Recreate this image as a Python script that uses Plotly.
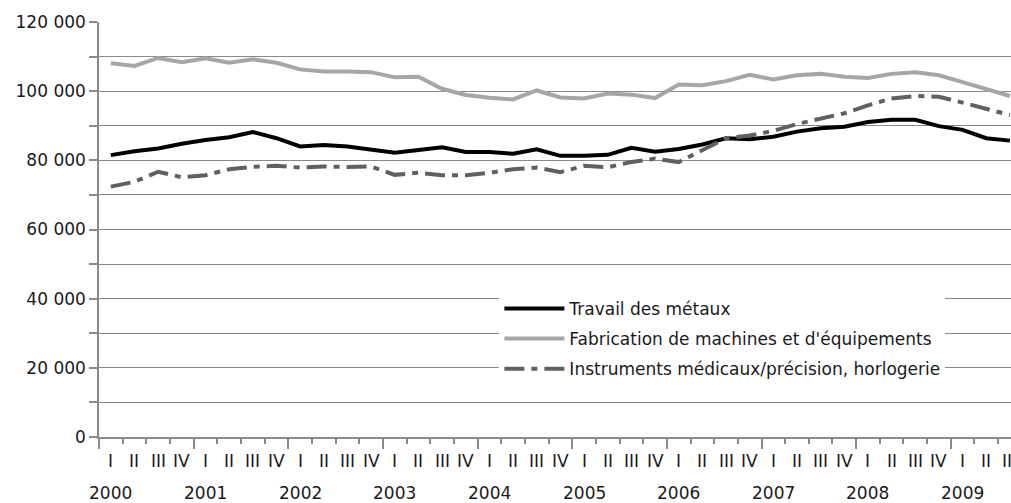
import plotly.graph_objects as go

years = [str(y) for y in range(2000, 2010)]
quarter_names = ["I", "II", "III", "IV"]

travail = [81.5, 82.6, 83.4, 84.8, 85.9, 86.7, 88.2, 86.4, 84.0, 84.4, 84.0, 83.2, 82.2, 83.0,
           83.8, 82.4, 82.4, 81.9, 83.2, 81.3, 81.3, 81.6, 83.6, 82.5, 83.3, 84.6, 86.4, 86.1,
           86.8, 88.3, 89.3, 89.7, 91.1, 91.7, 91.7, 89.9, 88.8, 86.4, 85.7]
fabrication = [108.1, 107.3, 109.6, 108.4, 109.5, 108.2, 109.2, 108.2, 106.3, 105.7, 105.7, 105.5,
               104.0, 104.2, 100.7, 98.9, 98.1, 97.6, 100.2, 98.2, 97.9, 99.3, 99.0, 98.0, 101.9,
               101.7, 102.9, 104.7, 103.4, 104.6, 105.0, 104.2, 103.8, 105.0, 105.5, 104.6, 102.6,
               100.5, 98.6]
instruments = [72.4, 73.8, 76.7, 75.1, 75.7, 77.4, 78.1, 78.4, 77.9, 78.2, 78.1, 78.2, 75.8, 76.4,
               75.7, 75.7, 76.4, 77.4, 77.9, 76.6, 78.4, 78.0, 79.5, 80.5, 79.5, 82.8, 86.4, 87.2,
               88.5, 90.5, 92.1, 93.6, 95.9, 97.9, 98.6, 98.4, 96.7, 95.0, 93.1]

n = len(travail)
idx = list(range(n))
q_labels = [quarter_names[i % 4] for i in idx]
year_pos = [i for i in idx if i % 4 == 0]
year_labels = [years[i // 4] for i in year_pos]
year_bounds = [p - 0.5 for p in year_pos]

y_vals = list(range(0, 120001, 10000))
y_text = [f"{v:,}".replace(",", " ") if v % 20000 == 0 else "" for v in y_vals]

FONT = "DejaVu Sans"
GRID = "#8a8a8a"
TXT = "#1a1a1a"

fig = go.Figure()
fig.add_trace(go.Scatter(x=idx, y=[v * 1000 for v in travail], mode="lines", legendgroup="a",
                         name="Travail des métaux", line=dict(color="#000000", width=4)))
fig.add_trace(go.Scatter(x=idx, y=[v * 1000 for v in fabrication], mode="lines", legendgroup="b",
                         name="Fabrication de machines et d'équipements",
                         line=dict(color="#a6a6a6", width=4)))
fig.add_trace(go.Scatter(x=idx, y=[v * 1000 for v in instruments], mode="lines", legendgroup="c",
                         name="Instruments médicaux/précision, horlogerie",
                         line=dict(color="#606060", width=4, dash="20px,7px,6px,7px")))

for xp, ql in zip(idx, q_labels):
    fig.add_annotation(x=xp, y=-0.058, xref="x", yref="paper", text=ql, showarrow=False,
                       xanchor="center", yanchor="middle", font=dict(family=FONT, size=17, color=TXT))
for xp, yl in zip(year_pos, year_labels):
    fig.add_annotation(x=xp, y=-0.135, xref="x", yref="paper", text=yl, showarrow=False,
                       xanchor="center", yanchor="middle", font=dict(family=FONT, size=17, color=TXT))

xr = [-0.5, 38.045]
fig.update_layout(
    width=1011, height=503,
    margin=dict(l=99, r=0, t=22, b=66, autoexpand=False),
    paper_bgcolor="white", plot_bgcolor="white",
    font=dict(family=FONT, size=17, color=TXT),
    showlegend=True,
    legend=dict(x=0.439, y=0.352, xanchor="left", yanchor="top", bgcolor="white",
                tracegroupgap=5, itemwidth=60,
                font=dict(family=FONT, size=17, color=TXT)),
    xaxis=dict(range=xr, tickvals=year_bounds, ticktext=[""] * len(year_bounds),
               ticks="outside", ticklen=10, tickcolor=GRID, tickwidth=1.5,
               minor=dict(tick0=-0.5, dtick=1, ticks="outside", ticklen=5, tickcolor=GRID,
                          tickwidth=1.5, showgrid=False),
               showline=True, linecolor=GRID, linewidth=1.5, showgrid=False, zeroline=False,
               automargin=False),
    yaxis=dict(range=[0, 120000], tickvals=y_vals, ticktext=y_text, ticks="outside",
               ticklen=8, tickcolor=GRID, tickwidth=1.5, showgrid=True, gridcolor=GRID,
               gridwidth=1.2, showline=True, linecolor=GRID, linewidth=1.5, zeroline=False,
               automargin=False, ticklabelstandoff=0),
)
fig.write_html("out.html", config={"displayModeBar": False}, post_script=(
    "document.body.style.margin='0';"
    "document.body.style.overflow='hidden';"
    "document.documentElement.style.overflow='hidden';"))
